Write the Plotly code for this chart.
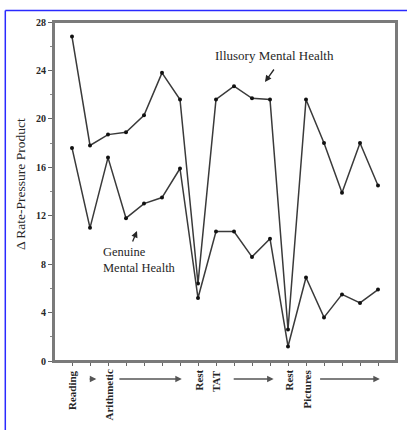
import plotly.graph_objects as go

points = list(range(1, 19))
illusory = [26.8, 17.8, 18.7, 18.9, 20.3, 23.8, 21.6, 6.4, 21.6, 22.7, 21.7, 21.6, 2.6, 21.6, 18.0, 13.9, 18.0, 14.5]
genuine = [17.6, 11.0, 16.8, 11.8, 13.0, 13.5, 15.9, 5.2, 10.7, 10.7, 8.6, 10.1, 1.2, 6.9, 3.6, 5.5, 4.8, 5.9]
cond_labels = ["Reading", "Arithmetic", "Rest", "TAT", "Rest", "Pictures"]
cond_pos = [1, 3, 8, 9, 13, 14]
arrow_spans = [(1.9, 2.35), (3.55, 7.1), (9.9, 12.2), (14.7, 18.1)]
yticks = [0, 4, 8, 12, 16, 20, 24, 28]

FONT = "Liberation Serif"
INK = "#262626"

L, R, T, B = 54, 396, 22, 361
W, H = R - L, B - T


def px(x):
    return (x - L) / W


def py(y):
    return (B - y) / H


fig = go.Figure()
for ys in (illusory, genuine):
    fig.add_trace(go.Scatter(
        x=points, y=ys, mode="lines+markers",
        line=dict(color="#3a3a3a", width=1.5),
        marker=dict(color="#111111", size=4),
        showlegend=False, cliponaxis=False, hoverinfo="skip"))

ann = []
for lab, p in zip(cond_labels, cond_pos):
    ann.append(dict(x=p, y=py(368), xref="x", yref="y domain", text="<b>%s</b>" % lab, textangle=-90,
                    showarrow=False, xanchor="center", yanchor="top",
                    font=dict(family=FONT, size=11, color=INK)))
for a, b in arrow_spans:
    ann.append(dict(x=b, y=py(379), ax=a, ay=py(379), xref="x", yref="y domain",
                    axref="x", ayref="y domain", text="", showarrow=True,
                    arrowhead=2, arrowsize=1, arrowwidth=1.3, arrowcolor="#555555"))

ann.append(dict(x=px(213), y=py(55), xref="x domain", yref="y domain", text="Illusory Mental Health",
                showarrow=False, xanchor="left", yanchor="middle",
                font=dict(family=FONT, size=13, color=INK)))
ann.append(dict(x=px(265), y=py(82), ax=px(275), ay=py(68),
                xref="x domain", yref="y domain", axref="x domain", ayref="y domain", text="",
                showarrow=True, arrowhead=2, arrowsize=1, arrowwidth=1.3, arrowcolor=INK))
ann.append(dict(x=px(101), y=py(260), xref="x domain", yref="y domain",
                text="Genuine<br>Mental Health", showarrow=False, align="left",
                xanchor="left", yanchor="middle",
                font=dict(family=FONT, size=12.5, color=INK)))
ann.append(dict(x=px(137), y=py(231), ax=px(132), ay=py(243),
                xref="x domain", yref="y domain", axref="x domain", ayref="y domain", text="",
                showarrow=True, arrowhead=2, arrowsize=1, arrowwidth=1.3, arrowcolor=INK))
ann.append(dict(x=px(20), y=py(184), xref="x domain", yref="y domain",
                text="\u0394 Rate-Pressure Product", textangle=-90, showarrow=False,
                xanchor="center", yanchor="middle",
                font=dict(family=FONT, size=13.5, color=INK)))

fx = px(5.3)
fy = py(10.5)
shapes = [
    dict(type="line", xref="paper", yref="paper", x0=fx, x1=fx, y0=fy, y1=-0.25,
         line=dict(color="#2a2aff", width=1.5)),
    dict(type="line", xref="paper", yref="paper", x0=fx, x1=1.1, y0=fy, y1=fy,
         line=dict(color="#2a2aff", width=1.5)),
    dict(type="rect", xref="x domain", yref="y domain", x0=0, x1=1, y0=0, y1=1,
         line=dict(color="#7a7a7a", width=2), layer="below"),
]

fig.update_layout(
    width=407, height=430,
    margin=dict(l=L, r=407 - R, t=T, b=430 - B, autoexpand=False),
    paper_bgcolor="white", plot_bgcolor="white",
    annotations=ann, shapes=shapes,
    xaxis=dict(range=[0, 19], tickvals=points, ticktext=[""] * 18, ticks="outside",
               ticklen=3, tickcolor="#666666", showgrid=False, zeroline=False,
               showline=True, mirror=True, linecolor="#7a7a7a", linewidth=2),
    yaxis=dict(range=[0, 28], tickvals=yticks, ticktext=["<b>%d</b>" % v for v in yticks],
               ticks="outside", ticklen=4,
               tickcolor="#666666", showgrid=False, zeroline=False,
               showline=True, mirror=True, linecolor="#7a7a7a", linewidth=2,
               tickfont=dict(family=FONT, size=10, color=INK),
               minor=dict(dtick=2, ticks="outside", ticklen=2, tickcolor="#888888")),
)

fig.write_html("out.html", config={"displayModeBar": False},
               post_script="document.body.style.margin='0';")
